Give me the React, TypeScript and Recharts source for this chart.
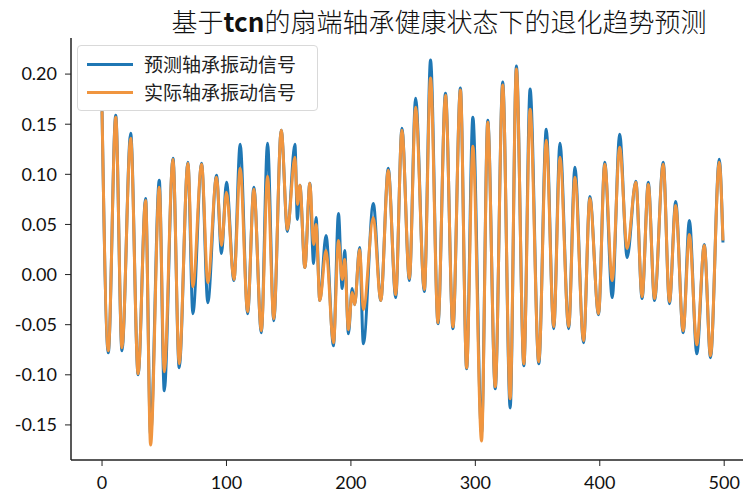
import { LineChart, Line, XAxis, YAxis, Legend } from 'recharts'

// sample index of each turning point of the vibration signal
const steps = [
  0, 5, 11, 16, 23, 29, 35, 39, 46, 50, 57, 62, 69, 73, 80, 85, 92, 96, 100, 106,
  111, 117, 122, 128, 133, 138, 144, 149, 155, 157, 159, 163, 167, 170, 172, 175, 180, 186, 190, 193,
  195, 198, 201, 203, 207, 210, 218, 224, 230, 236, 241, 247, 252, 259, 264, 270, 276, 282, 288, 293,
  298, 305, 310, 316, 322, 328, 333, 339, 344, 351, 357, 363, 368, 375, 380, 387, 392, 399, 404, 410,
  416, 422, 429, 434, 439, 444, 451, 456, 461, 467, 472, 478, 484, 489, 496, 499,
]

// 预测轴承振动信号
const predicted = [
  0.163, -0.078, 0.159, -0.076, 0.141, -0.1, 0.076, -0.16, 0.094, -0.116, 0.116, -0.093, 0.112, -0.039, 0.111, -0.028, 0.099, 0.021, 0.092, -0.006,
  0.13, -0.039, 0.087, -0.058, 0.131, -0.046, 0.144, 0.043, 0.13, 0.055, 0.089, 0.007, 0.091, 0.011, 0.057, -0.026, 0.039, -0.071, 0.061, -0.014,
  0.024, -0.059, -0.014, -0.03, 0.027, -0.069, 0.071, -0.026, 0.106, -0.023, 0.146, -0.006, 0.176, -0.017, 0.214, -0.049, 0.181, -0.054, 0.186, -0.094,
  0.157, -0.158, 0.154, -0.114, 0.192, -0.133, 0.208, -0.091, 0.185, -0.089, 0.145, -0.054, 0.131, -0.054, 0.107, -0.068, 0.078, -0.04, 0.112, -0.023,
  0.14, 0.017, 0.093, -0.024, 0.092, -0.026, 0.112, -0.029, 0.073, -0.058, 0.054, -0.079, 0.03, -0.083, 0.115, 0.032,
]

// 实际轴承振动信号
const actual = [
  0.163, -0.076, 0.157, -0.073, 0.136, -0.099, 0.074, -0.17, 0.087, -0.097, 0.115, -0.089, 0.111, -0.012, 0.11, -0.008, 0.097, 0.029, 0.082, -0.005,
  0.106, -0.037, 0.085, -0.056, 0.098, -0.044, 0.144, 0.045, 0.117, 0.07, 0.089, 0.007, 0.091, 0.03, 0.05, -0.026, 0.024, -0.068, 0.034, -0.005,
  0.015, -0.055, -0.018, -0.03, 0.025, -0.035, 0.057, -0.026, 0.104, -0.02, 0.144, -0.004, 0.167, -0.015, 0.196, -0.048, 0.179, -0.052, 0.184, -0.093,
  0.128, -0.166, 0.152, -0.112, 0.189, -0.124, 0.205, -0.089, 0.165, -0.087, 0.134, -0.052, 0.117, -0.052, 0.097, -0.066, 0.076, -0.039, 0.11, -0.006,
  0.127, 0.026, 0.092, -0.022, 0.09, -0.024, 0.11, -0.027, 0.069, -0.056, 0.04, -0.07, 0.029, -0.081, 0.112, 0.034,
]

const xTicks = [0, 100, 200, 300, 400, 500]
const yTicks = [-0.15, -0.1, -0.05, 0, 0.05, 0.1, 0.15, 0.2]

const seriesNames = ['预测轴承振动信号', '实际轴承振动信号']
const seriesColors = ['#1f77b4', '#f0953f']

const data = steps.map((t, i) => ({ t, predicted: predicted[i], actual: actual[i] }))

const tickFont = { fontFamily: 'Lato, "Open Sans", sans-serif', fontSize: 18, fill: '#111' }

function LegendBox() {
  return (
    <div
      style={{
        width: 241,
        height: 66,
        boxSizing: 'border-box',
        border: '1px solid #d9d9d9',
        borderRadius: 4,
        background: 'rgba(255,255,255,0.85)',
        position: 'relative',
        fontFamily: '"Noto Sans CJK SC", sans-serif',
        fontSize: 19,
        color: '#222',
        textAlign: 'left',
      }}
    >
      {seriesNames.map((name, i) => (
        <div
          key={name}
          style={{ position: 'absolute', left: 9, top: 5 + i * 28, height: 26, display: 'flex', alignItems: 'center' }}
        >
          <span style={{ display: 'inline-block', width: 46, height: 3, background: seriesColors[i] }} />
          <span style={{ marginLeft: 11, lineHeight: '26px', whiteSpace: 'nowrap' }}>{name}</span>
        </div>
      ))}
    </div>
  )
}

export default function App() {
  return (
    <div style={{ position: 'absolute', left: 0, top: 0, width: 743, height: 495, overflow: 'hidden', background: '#fff' }}>
      <div
        style={{
          position: 'absolute',
          left: 439,
          top: 2,
          transform: 'translateX(-50%)',
          whiteSpace: 'nowrap',
          fontFamily: '"Noto Sans CJK SC", sans-serif',
          fontWeight: 300,
          fontSize: 26,
          color: '#111',
        }}
      >
        基于<span style={{ fontWeight: 700 }}>tcn</span>的扇端轴承健康状态下的退化趋势预测
      </div>
      <LineChart width={770} height={495} data={data} margin={{ top: 38, right: 16, bottom: 0, left: 0 }}>
        <XAxis
          xAxisId="top"
          orientation="top"
          dataKey="t"
          type="number"
          domain={[-24.95, 523.95]}
          allowDataOverflow
          height={0}
          tick={false}
          tickLine={false}
          axisLine={{ stroke: '#222', strokeWidth: 1.5 }}
        />
        <XAxis
          dataKey="t"
          type="number"
          domain={[-24.95, 523.95]}
          allowDataOverflow
          ticks={xTicks}
          height={35}
          tickSize={6}
          tickMargin={10}
          tick={tickFont}
          tickLine={{ stroke: '#222' }}
          axisLine={{ stroke: '#222', strokeWidth: 1.5 }}
        />
        <YAxis
          type="number"
          domain={[-0.185, 0.236]}
          allowDataOverflow
          ticks={yTicks}
          width={71}
          tickSize={6}
          tickMargin={8}
          tick={tickFont}
          tickFormatter={(v: number) => v.toFixed(2)}
          tickLine={{ stroke: '#222' }}
          axisLine={{ stroke: '#222', strokeWidth: 1.5 }}
        />
        <Legend
          layout="horizontal"
          verticalAlign="middle"
          align="center"
          wrapperStyle={{ top: 45, left: 77, width: 241 }}
          content={() => <LegendBox />}
        />
        <Line
          xAxisId={0}
          dataKey="predicted"
          name={seriesNames[0]}
          type="monotone"
          stroke={seriesColors[0]}
          strokeWidth={3}
          dot={false}
          isAnimationActive={false}
        />
        <Line
          xAxisId={0}
          dataKey="actual"
          name={seriesNames[1]}
          type="monotone"
          stroke={seriesColors[1]}
          strokeWidth={3}
          dot={false}
          isAnimationActive={false}
        />
      </LineChart>
    </div>
  )
}
